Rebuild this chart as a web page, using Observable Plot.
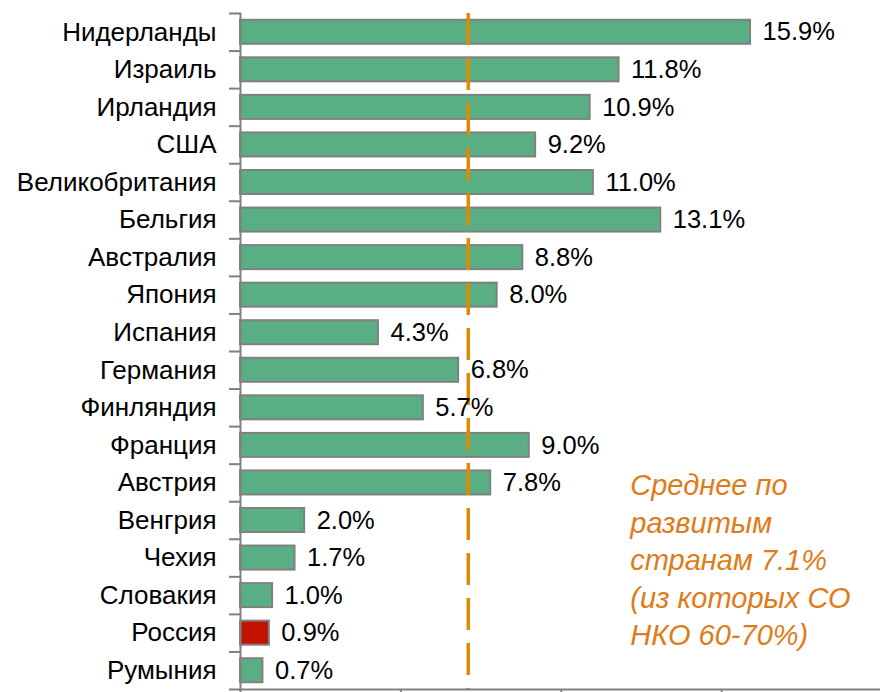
<!DOCTYPE html>
<html>
<head>
<meta charset="utf-8">
<script src="https://cdn.jsdelivr.net/npm/d3@7"></script>
<script src="https://cdn.jsdelivr.net/npm/@observablehq/plot@0.6"></script>
<style>
  html, body { margin: 0; padding: 0; background: #fff; }
  #chart svg { display: block; }
</style>
</head>
<body>
<div id="chart"></div>
<script>
const countries = ["Нидерланды","Израиль","Ирландия","США","Великобритания","Бельгия","Австралия","Япония","Испания","Германия","Финляндия","Франция","Австрия","Венгрия","Чехия","Словакия","Россия","Румыния"];
const values = [15.9, 11.8, 10.9, 9.2, 11.0, 13.1, 8.8, 8.0, 4.3, 6.8, 5.7, 9.0, 7.8, 2.0, 1.7, 1.0, 0.9, 0.7];
const highlight = "Россия";
const average = 7.1;
const xTicks = [0, 5, 10, 15];
const annotation = "Среднее по\nразвитым\nстранам 7.1%\n(из которых СО\nНКО 60-70%)";
const annotationRow = "Чехия";

const data = countries.map((c, i) => ({country: c, value: values[i], label: values[i].toFixed(1) + "%"}));

const W = 880, H = 692, mTop = 13, mBottom = 3;
const step = (H - mTop - mBottom) / countries.length;
const gray = "#808080";

const chart = Plot.plot({
  width: W,
  height: H,
  marginLeft: 240,
  marginRight: 0,
  marginTop: mTop,
  marginBottom: mBottom,
  style: {fontFamily: "'Liberation Sans', Arial, sans-serif", fontSize: "26px", background: "#fff", color: "#000"},
  x: {domain: [0, 19.95], axis: null},
  y: {domain: countries, paddingInner: 0.36, paddingOuter: 0.18, round: false, axis: null},
  marks: [
    Plot.barX(data, {x: "value", y: "country", fill: d => d.country === highlight ? "#c41200" : "#5aae84", stroke: gray, strokeWidth: 2}),
    Plot.ruleX([average], {stroke: "#e08a00", strokeWidth: 3.5, strokeDasharray: "32,13"}),
    Plot.text(data, {x: "value", y: "country", text: "label", textAnchor: "start", dx: 12, fontSize: 25.5, fill: "#000"}),
    Plot.axisY({tickSize: 0, tickPadding: 24, fontSize: 26, color: "#000", label: null}),
    Plot.axisY({text: null, tickSize: 11, dy: -step / 2, stroke: gray, strokeWidth: 2, label: null}),
    Plot.axisY({ticks: [countries[countries.length - 1]], text: null, tickSize: 11, dy: step / 2, stroke: gray, strokeWidth: 2, label: null}),
    Plot.axisX({ticks: xTicks, text: null, tickSize: 8, stroke: gray, strokeWidth: 2, label: null}),
    Plot.frame({anchor: "left", stroke: gray, strokeWidth: 2}),
    Plot.frame({anchor: "bottom", stroke: gray, strokeWidth: 2}),
    Plot.text([{text: annotation, row: annotationRow}], {x: () => 12.15, y: "row", text: "text", textAnchor: "start", lineAnchor: "middle", lineHeight: 1.293, fontSize: 29, fontStyle: "italic", fill: "#e07b1a"})
  ]
});
document.getElementById("chart").appendChild(chart);
</script>
</body>
</html>
